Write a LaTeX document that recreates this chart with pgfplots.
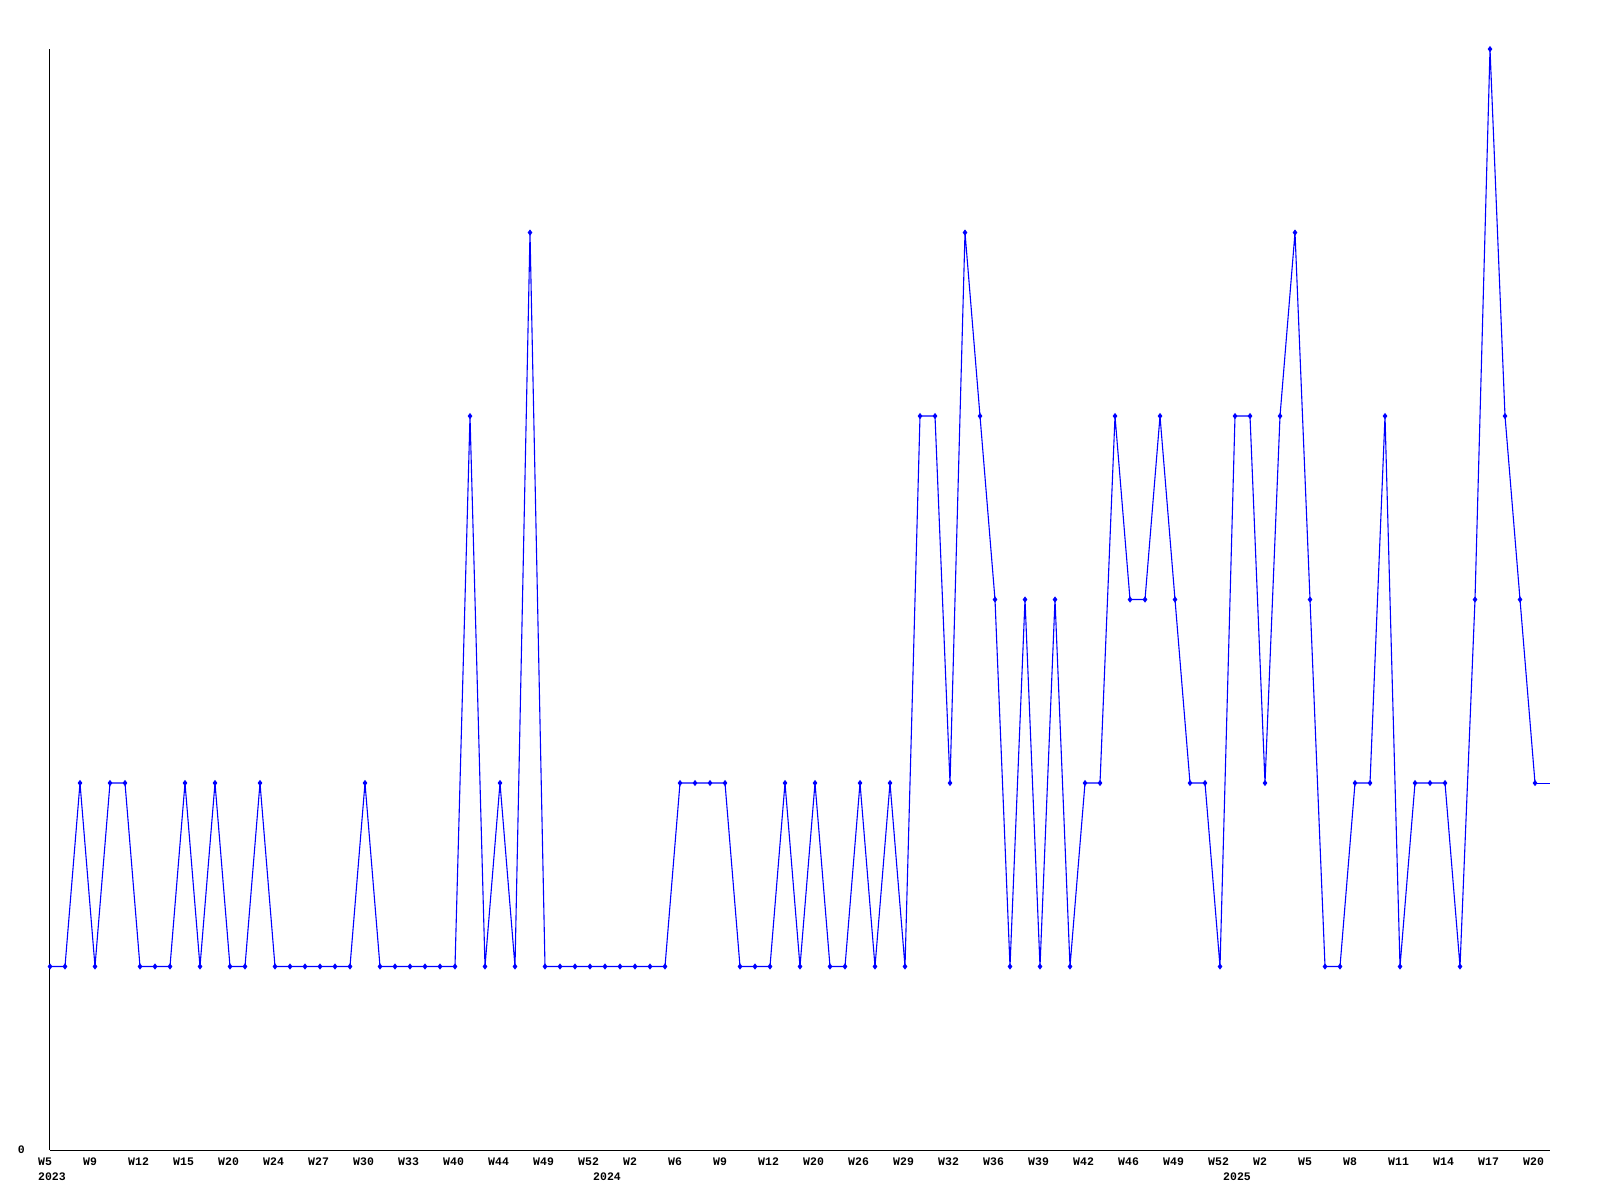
\documentclass[border=0pt]{standalone}
\usepackage{fontspec}
\usepackage{pgfplots}
\pgfplotsset{compat=1.18}
\newfontfamily\monofont{Liberation Mono}
\newcommand\ticfont{\fontsize{11.5}{12}\selectfont\monofont\bfseries}
\begin{document}
\begin{tikzpicture}[x=1pt,y=1pt]
\fill[white] (-50,-50) rectangle (1550,1150);
\begin{axis}[
  at={(0,0)}, anchor=south west,
  scale only axis, width=1500pt, height=1101pt,
  xmin=0, xmax=100, ymin=0, ymax=6,
  axis lines*=left,
  axis line style={black, line width=1pt},
  clip=false,
  major tick length=0pt,
  xtick={0,3,...,99},
  xticklabels={W5,W9,W12,W15,W20,W24,W27,W30,W33,W40,W44,W49,W52,W2,W6,W9,W12,W20,W26,W29,W32,W36,W39,W42,W46,W49,W52,W2,W5,W8,W11,W14,W17,W20},
  xticklabel style={font=\ticfont, anchor=north west, inner sep=0pt, xshift=-12pt, yshift=-8pt},
  ytick={0}, yticklabels={0},
  yticklabel style={font=\ticfont, anchor=east, inner sep=0pt, xshift=-25pt},
]
\addplot[color={rgb,255:red,0;green,0;blue,255}, line width=1.1pt, mark=diamond*, mark size=2.2pt, mark options={solid}] coordinates {
(0,1)(1,1)(2,2)(3,1)(4,2)(5,2)(6,1)(7,1)(8,1)(9,2)
(10,1)(11,2)(12,1)(13,1)(14,2)(15,1)(16,1)(17,1)(18,1)(19,1)
(20,1)(21,2)(22,1)(23,1)(24,1)(25,1)(26,1)(27,1)(28,4)(29,1)
(30,2)(31,1)(32,5)(33,1)(34,1)(35,1)(36,1)(37,1)(38,1)(39,1)
(40,1)(41,1)(42,2)(43,2)(44,2)(45,2)(46,1)(47,1)(48,1)(49,2)
(50,1)(51,2)(52,1)(53,1)(54,2)(55,1)(56,2)(57,1)(58,4)(59,4)
(60,2)(61,5)(62,4)(63,3)(64,1)(65,3)(66,1)(67,3)(68,1)(69,2)
(70,2)(71,4)(72,3)(73,3)(74,4)(75,3)(76,2)(77,2)(78,1)(79,4)
(80,4)(81,2)(82,4)(83,5)(84,3)(85,1)(86,1)(87,2)(88,2)(89,4)
(90,1)(91,2)(92,2)(93,2)(94,1)(95,3)(96,6)(97,4)(98,3)(99,2)
};
\addplot[color={rgb,255:red,0;green,0;blue,255}, line width=0.6pt, mark=none] coordinates {(99,2)(100,2)};
\node[font=\ticfont, anchor=north west, inner sep=0pt, xshift=-12pt, yshift=-23pt] at (axis cs:0,0) {2023};
\node[font=\ticfont, anchor=north west, inner sep=0pt, xshift=-12pt, yshift=-23pt] at (axis cs:37,0) {2024};
\node[font=\ticfont, anchor=north west, inner sep=0pt, xshift=-12pt, yshift=-23pt] at (axis cs:79,0) {2025};
\end{axis}
\pgfresetboundingbox
\path[use as bounding box] (-50,-50) rectangle (1550,1150);
\end{tikzpicture}
\end{document}
